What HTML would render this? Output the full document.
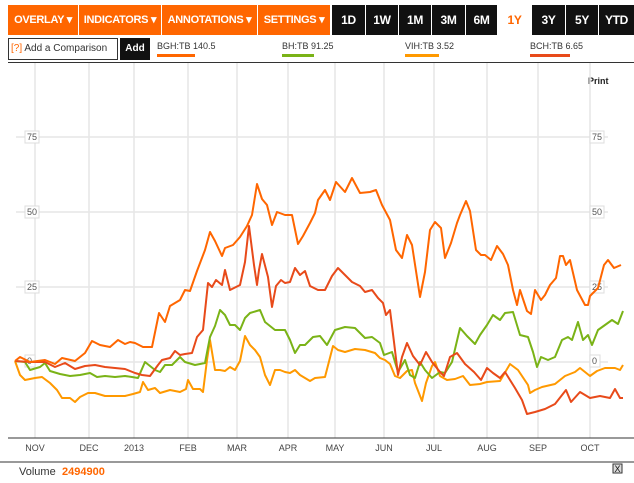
<!DOCTYPE html>
<html><head><meta charset="utf-8"><style>
body{margin:0;width:634px;height:483px;background:#fff;font-family:"Liberation Sans",sans-serif;overflow:hidden;position:relative}
.b{position:absolute;top:5px;height:30px;line-height:30px;color:#fff;font-weight:bold;font-size:11px;text-align:center;background:#ff6600;white-space:nowrap;letter-spacing:-0.3px}
.k{background:#111;font-size:12px}
.l{position:absolute;top:41px;font-size:9px;color:#333;white-space:nowrap}
.u{position:absolute;top:54px;height:3px}
</style></head><body>
<div class="b" style="left:8px;width:70px">OVERLAY ▾</div>
<div class="b" style="left:79px;width:82px">INDICATORS ▾</div>
<div class="b" style="left:162px;width:95px">ANNOTATIONS ▾</div>
<div class="b" style="left:258px;width:72px">SETTINGS ▾</div>
<div class="b k" style="left:332px;width:33px">1D</div>
<div class="b k" style="left:366px;width:32px">1W</div>
<div class="b k" style="left:399px;width:32px">1M</div>
<div class="b k" style="left:432px;width:33px">3M</div>
<div class="b k" style="left:466px;width:31px">6M</div>
<div class="b" style="left:498px;width:33px;background:#fff;color:#ff6600;font-size:12px">1Y</div>
<div class="b k" style="left:532px;width:33px">3Y</div>
<div class="b k" style="left:566px;width:32px">5Y</div>
<div class="b k" style="left:599px;width:35px">YTD</div>
<div style="position:absolute;left:8px;top:38px;width:110px;height:22px;border:1px solid #333;font-size:10px;line-height:20px;color:#333;padding-left:2px;box-sizing:border-box;white-space:nowrap;overflow:hidden"><span style="color:#ff6600">[?]</span> Add a Comparison</div>
<div style="position:absolute;left:120px;top:38px;width:30px;height:22px;background:#111;color:#fff;font-weight:bold;font-size:10px;line-height:22px;text-align:center">Add</div>
<div class="l" style="left:157px">BGH:TB 140.5</div><div class="u" style="left:157px;width:38px;background:#ff6600"></div>
<div class="l" style="left:282px">BH:TB 91.25</div><div class="u" style="left:282px;width:32px;background:#7ab317"></div>
<div class="l" style="left:405px">VIH:TB 3.52</div><div class="u" style="left:405px;width:34px;background:#ff9900"></div>
<div class="l" style="left:530px">BCH:TB 6.65</div><div class="u" style="left:530px;width:40px;background:#e84a1a"></div>
<div style="position:absolute;left:8px;top:62px;width:626px;height:1px;background:#333"></div>
<div style="position:absolute;left:588px;top:76px;font-size:9px;font-weight:bold;color:#222">Print</div>
<svg style="position:absolute;left:0;top:0" width="634" height="483">
<g stroke="#e6e6e6" stroke-width="1.5">
<line x1="35" y1="63" x2="35" y2="438"/><line x1="89" y1="63" x2="89" y2="438"/><line x1="134" y1="63" x2="134" y2="438"/><line x1="188" y1="63" x2="188" y2="438"/><line x1="237" y1="63" x2="237" y2="438"/><line x1="288" y1="63" x2="288" y2="438"/><line x1="335" y1="63" x2="335" y2="438"/><line x1="384" y1="63" x2="384" y2="438"/><line x1="434" y1="63" x2="434" y2="438"/><line x1="487" y1="63" x2="487" y2="438"/><line x1="538" y1="63" x2="538" y2="438"/><line x1="590" y1="63" x2="590" y2="438"/>
<line x1="16" y1="137" x2="608" y2="137"/><line x1="16" y1="212" x2="608" y2="212"/><line x1="16" y1="287" x2="608" y2="287"/><line x1="16" y1="362" x2="608" y2="362"/>
</g>
<g font-size="9" fill="#555">
<rect x="25" y="131" width="14" height="12" fill="#fff" stroke="#ddd"/><text x="27" y="140">75</text>
<rect x="25" y="206" width="14" height="12" fill="#fff" stroke="#ddd"/><text x="27" y="215">50</text>
<rect x="25" y="281" width="14" height="12" fill="#fff" stroke="#ddd"/><text x="27" y="290">25</text>
<rect x="25" y="355" width="10" height="12" fill="#fff" stroke="#ddd"/><text x="27" y="364">0</text>
<rect x="590" y="131" width="14" height="12" fill="#fff" stroke="#ddd"/><text x="592" y="140">75</text>
<rect x="590" y="206" width="14" height="12" fill="#fff" stroke="#ddd"/><text x="592" y="215">50</text>
<rect x="590" y="281" width="14" height="12" fill="#fff" stroke="#ddd"/><text x="592" y="290">25</text>
<rect x="590" y="355" width="10" height="12" fill="#fff" stroke="#ddd"/><text x="592" y="364">0</text>
</g>
<g fill="none" stroke-width="2" stroke-linejoin="round">
<polyline stroke="#ff9900" points="15,361 20,375 25,380 35,378 42,377 50,383 57,390 62,398 70,398 75,402 80,397 88,393 95,393 105,396 115,396 125,396 133,394 140,392 143,382 148,390 155,388 160,393 170,390 180,392 186,389 188,380 193,389 200,389 203,392 207,360 210,340 215,370 220,370 225,371 230,367 235,370 240,361 245,336 250,345 255,350 260,357 265,375 270,385 275,370 280,370 285,372 290,373 295,370 300,375 305,378 310,381 315,378 325,377 333,346 338,350 345,352 355,349 365,350 375,353 380,358 385,360 390,364 395,376 400,378 407,371 412,370 415,383 422,401 426,383 432,366 435,362 440,376 447,380 455,379 463,376 470,385 480,384 487,382 500,381 510,364 518,370 528,385 530,393 535,390 542,387 555,384 565,376 575,372 580,368 590,376 597,371 605,368 615,368 620,370 623,365"/>
<polyline stroke="#7ab317" points="15,361 25,362 30,370 40,367 45,363 50,371 60,374 70,376 80,375 90,373 97,377 105,376 115,377 125,376 132,377 138,378 145,362 155,370 160,372 165,365 172,365 180,357 185,362 195,365 200,364 205,363 210,337 215,326 220,310 225,315 230,325 235,325 240,330 245,318 250,313 260,310 265,322 275,330 285,330 290,340 295,353 300,345 305,345 313,337 320,336 327,345 335,330 345,327 355,328 365,338 372,337 380,343 384,355 392,352 398,372 405,360 410,375 415,378 420,362 425,370 432,378 440,372 445,373 452,362 460,328 467,336 475,344 480,335 487,325 493,315 500,320 505,313 513,312 520,335 528,337 533,352 537,367 541,357 548,360 555,357 562,340 568,337 572,340 578,322 583,340 588,335 592,345 598,330 605,325 612,320 618,324 623,311"/>
<polyline stroke="#e84a1a" points="15,361 30,362 45,362 55,367 65,363 75,369 85,366 95,365 105,367 115,368 125,369 135,373 142,375 150,376 158,365 162,360 170,358 175,351 180,355 185,354 192,353 197,337 203,330 208,283 212,287 216,280 222,285 225,270 230,290 240,285 245,262 249,226 254,265 257,285 259,270 262,254 268,277 272,307 276,286 281,280 285,283 290,282 295,268 300,275 305,271 310,286 318,290 325,290 332,276 338,268 345,275 352,282 360,286 365,292 372,290 378,298 383,303 386,315 390,310 394,342 398,375 402,357 407,343 413,356 420,365 426,352 432,362 440,372 444,376 450,357 457,353 465,364 474,372 481,380 487,368 493,373 500,378 505,372 515,388 522,400 527,414 535,412 545,409 555,404 566,390 571,402 580,392 590,398 600,396 610,398 615,389 620,398 623,398"/>
<polyline stroke="#ff6600" points="15,361 20,357 30,362 45,360 55,364 62,358 75,361 85,353 92,341 100,345 110,347 118,340 125,344 130,342 135,343 143,347 152,347 159,313 165,322 170,306 180,300 185,290 190,291 197,271 205,250 210,232 215,241 222,256 225,248 233,245 240,237 247,226 252,215 257,184 262,199 267,205 272,225 277,212 285,215 292,215 298,244 303,236 310,223 315,213 318,200 325,190 330,200 336,182 345,192 352,178 360,193 370,192 376,190 382,205 390,220 396,250 402,258 407,235 412,245 420,297 425,272 430,230 435,222 441,228 445,258 451,243 457,223 460,215 466,201 470,211 476,250 481,255 485,255 491,260 497,246 503,254 508,265 513,290 517,305 520,290 527,311 531,314 535,290 541,300 545,295 550,285 556,278 560,256 563,256 566,265 570,260 577,290 585,305 588,305 590,296 598,288 604,265 608,260 614,268 621,265"/>
</g>
<line x1="8" y1="438" x2="634" y2="438" stroke="#333" stroke-width="1"/>
<line x1="0" y1="462" x2="634" y2="462" stroke="#333" stroke-width="1"/>
<g font-size="9" fill="#444" text-anchor="middle">
<text x="35" y="451">NOV</text><text x="89" y="451">DEC</text><text x="134" y="451">2013</text><text x="188" y="451">FEB</text><text x="237" y="451">MAR</text><text x="288" y="451">APR</text><text x="335" y="451">MAY</text><text x="384" y="451">JUN</text><text x="434" y="451">JUL</text><text x="487" y="451">AUG</text><text x="538" y="451">SEP</text><text x="590" y="451">OCT</text>
</g>
<text x="19" y="475" font-size="11" fill="#333">Volume</text>
<text x="62" y="475" font-size="11" fill="#ff6600" font-weight="bold">2494900</text>
<rect x="613" y="464" width="9" height="9" fill="#ddd" stroke="#333"/>
<text x="617.5" y="472" font-size="9" text-anchor="middle" fill="#111">X</text>
</svg>
</body></html>
